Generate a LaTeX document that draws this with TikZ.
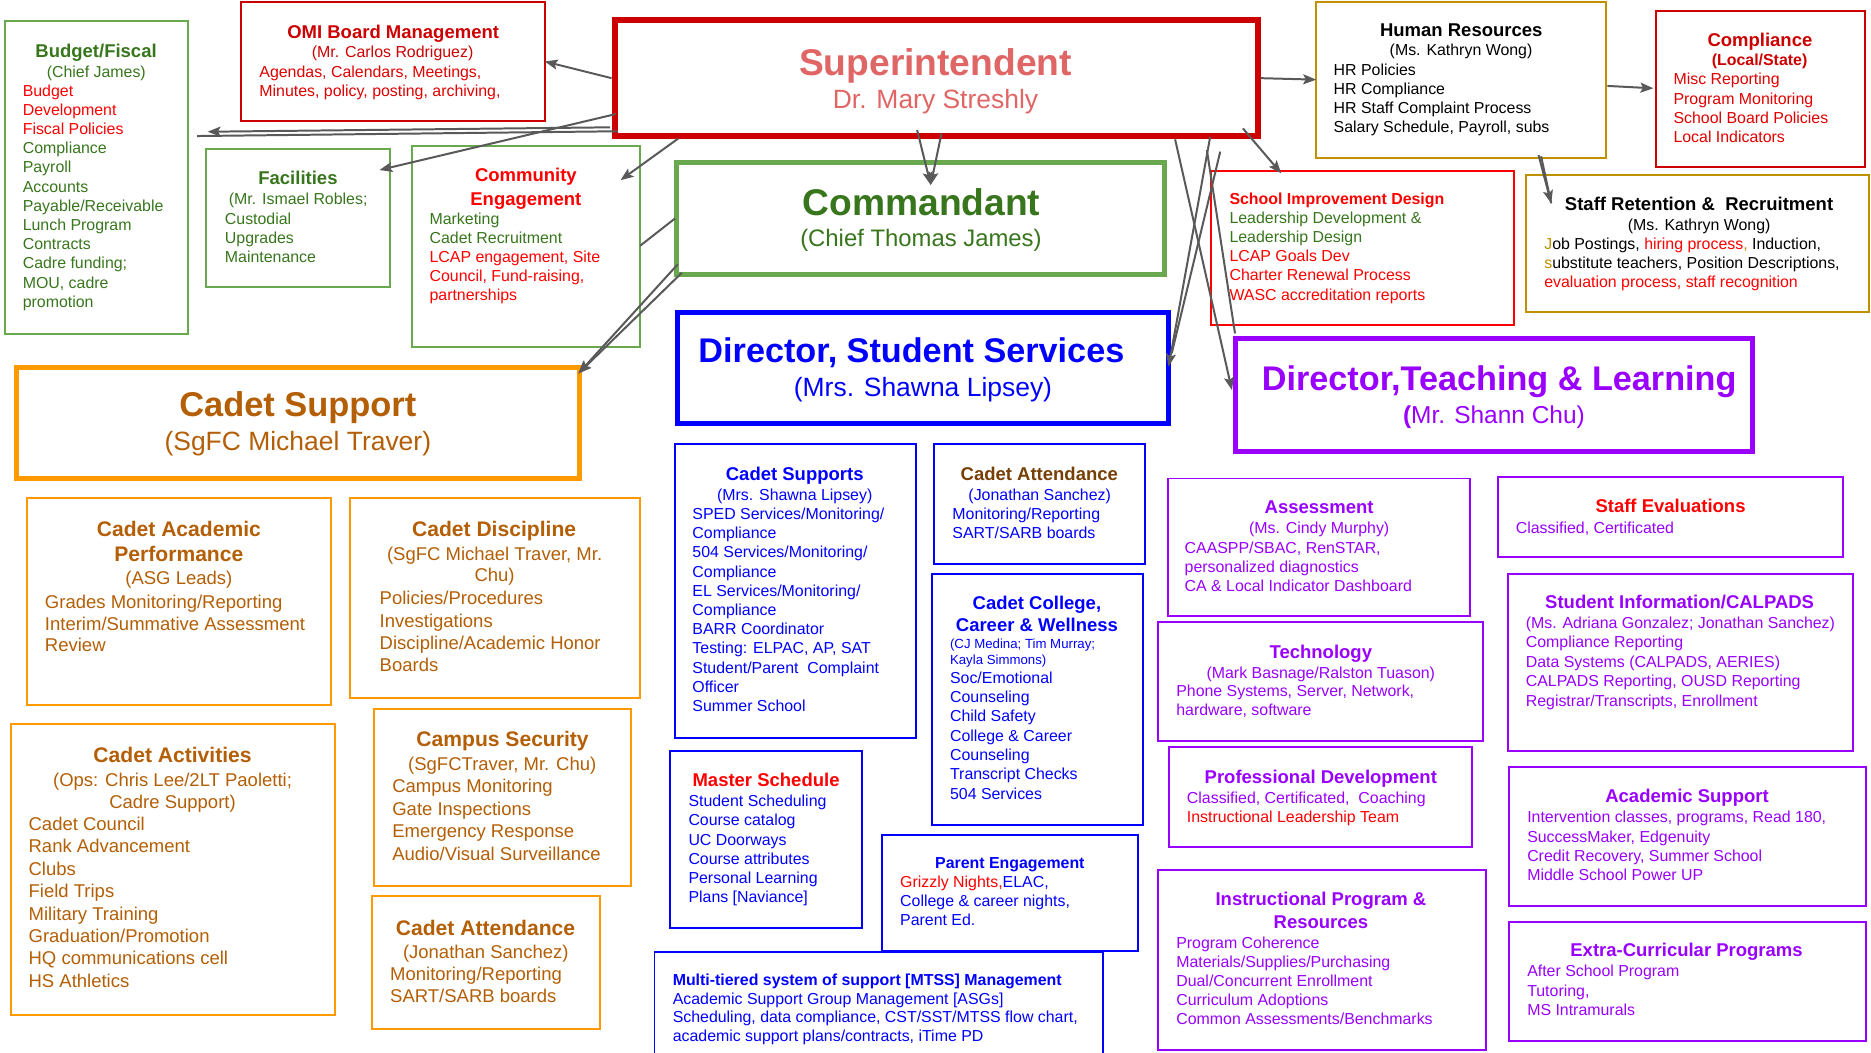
\documentclass[tikz,border=0pt]{standalone}
\usepackage{fontspec}
\setmainfont{Liberation Sans}
\usetikzlibrary{fit,arrows.meta}
\definecolor{cR}{HTML}{CC0000}
\definecolor{cRR}{HTML}{FF0000}
\definecolor{cRb}{HTML}{E00000}
\definecolor{cG}{HTML}{6AA84F}
\definecolor{cGT}{HTML}{38761D}
\definecolor{cSup}{HTML}{E06666}
\definecolor{cOr}{HTML}{FF9900}
\definecolor{cOrT}{HTML}{B45F06}
\definecolor{cBl}{HTML}{0000FF}
\definecolor{cPu}{HTML}{9900FF}
\definecolor{cGold}{HTML}{BF9000}
\definecolor{cBr}{HTML}{783F04}
\definecolor{cLn}{HTML}{595959}
\newcommand\LL[1]{\vtop{\let\\\cr\halign{##\hfil\cr#1\crcr}}}
\newcommand\CL[1]{\vtop{\let\\\cr\halign{\hfil##\hfil\cr#1\crcr}}}
\newcommand\fB{\fontsize{8}{9.66}\selectfont}
\newcommand\fT{\fontsize{9.3}{11.2}\selectfont\bfseries}
\newcommand\fO{\fontsize{9.3}{11.25}\selectfont}
\newcommand\fOT{\fontsize{10.6}{12.5}\selectfont\bfseries}
\tikzset{
  bx/.style={draw=#1, line width=1pt, inner sep=0pt, outer sep=0pt},
  bbx/.style={draw=#1, line width=2.5pt, inner sep=0pt, outer sep=0pt},
  tx/.style={inner sep=0pt, outer sep=0pt},
  tt/.style={tx, anchor=base},
  tb/.style={tx, anchor=base west},
  ln/.style={draw=cLn, line width=1pt},
  ar/.style={ln, -{Stealth[length=6.5pt,width=5pt,inset=1.3pt]}},
}
\begin{document}
\begin{tikzpicture}[x=0.6pt,y=-0.6pt]
\fill[white] (0,0) rectangle (1568,882);
\useasboundingbox (0,0) rectangle (1568,882);

% ---------- Budget / Fiscal
\node[bx=cG, fit={(4,18) (157.5,279.5)}] (budget) {};
\node[tt, text=cGT, font=\fT] (budget-t) at (80.5,48.1) {Budget/Fiscal};
\node[tt, text=cGT, font=\fB] (budget-s) at (80.7,64.8) {(Chief James)};
\node[tb, text=cGT, font=\fB] (budget-b) at (19.1,80.5) {\LL{\textcolor{cRR}{Budget}\\\textcolor{cRR}{Development}\\\textcolor{cRR}{Fiscal Policies}\\Compliance\\Payroll\\Accounts\\Payable/Receivable\\Lunch Program\\Contracts\\Cadre funding;\\MOU, cadre\\promotion}};

% ---------- OMI Board
\node[bx=cR, fit={(202,2) (456.5,101)}] (omi) {};
\node[tt, text=cR, font=\fT] (omi-t) at (329.5,32.1) {OMI Board Management};
\node[tt, text=cR, font=\fB] (omi-s) at (329,48.1) {(Mr. Carlos Rodriguez)};
\node[tb, text=cRb, font=\fB] (omi-b) at (217.4,64.8) {\LL{Agendas, Calendars, Meetings,\\Minutes, policy, posting, archiving,}};

% ---------- Superintendent
\node[draw=cR, line width=3pt, inner sep=0pt, fit={(515,17) (1054,114)}] (sup) {};
\node[tt, text=cSup, font=\fontsize{18.7}{22}\selectfont\bfseries] (sup-t) at (784,62.9) {Superintendent};
\node[tt, text=cSup, font=\fontsize{13.3}{16}\selectfont] (sup-s) at (784,90.8) {Dr. Mary Streshly};

% ---------- Human Resources
\node[bx=cGold, fit={(1103,1.5) (1345.5,132)}] (hr) {};
\node[tt, text=black, font=\fT] (hr-t) at (1224.6,30.2) {Human Resources};
\node[tt, text=black, font=\fB] (hr-s) at (1224.4,46.9) {(Ms. Kathryn Wong)};
\node[tb, text=black, font=\fB] (hr-b) at (1117.7,62.9) {\LL{HR Policies\\HR Compliance\\HR Staff Complaint Process\\Salary Schedule, Payroll, subs}};

% ---------- Compliance
\node[bx=cR, fit={(1387.5,9) (1563,140)}] (comp) {};
\node[tt, text=cR, font=\fT] (comp-t) at (1474.9,38.6) {Compliance};
\node[tt, text=cR, font=\fB\bfseries] (comp-s) at (1474.6,54.5) {(Local/State)};
\node[tb, text=cRb, font=\fB] (comp-b) at (1402.5,71.2) {\LL{Misc Reporting\\Program Monitoring\\School Board Policies\\Local Indicators}};

% ---------- Facilities
\node[bx=cG, fit={(173,125) (326.5,240.5)}] (fac) {};
\node[tt, text=cGT, font=\fT] (fac-t) at (249.7,155) {Facilities};
\node[tt, text=cGT, font=\fB] (fac-s) at (249.9,171) {(Mr. Ismael Robles;};
\node[tb, text=cGT, font=\fB] (fac-b) at (188.5,187.8) {\LL{Custodial\\Upgrades\\Maintenance}};

% ---------- Community Engagement
\node[bx=cG, fit={(345,122.5) (536.5,290.5)}] (ce) {};
\node[tt, text=cRR, font=\fontsize{9.3}{11.7}\selectfont\bfseries] (ce-t) at (440.7,152.3) {\CL{Community\\Engagement}};
\node[tb, text=cRR, font=\fB] (ce-b) at (360,187.8) {\LL{\textcolor{cGT}{Marketing}\\\textcolor{cGT}{Cadet Recruitment}\\LCAP engagement, Site\\Council, Fund-raising,\\partnerships}};

% ---------- Commandant
\node[bbx=cG, fit={(567,136) (976,230)}] (cmd) {};
\node[tt, text=cGT, font=\fontsize{18.7}{22}\selectfont\bfseries] (cmd-t) at (772.3,180.2) {Commandant};
\node[tt, text=cGT, font=\fontsize{12}{14}\selectfont] (cmd-s) at (771.8,206.7) {(Chief Thomas James)};

% ---------- School Improvement Design
\node[bx=cRR, fit={(1015,143.5) (1269,272)}] (sid) {};
\node[tb, text=cRR, font=\fB] (sid-b) at (1030.4,171) {\LL{\textbf{School Improvement Design}\\\textcolor{cGT}{Leadership Development \&}\\\textcolor{cGT}{Leadership Design}\\LCAP Goals Dev\\Charter Renewal Process\\WASC accreditation reports}};

% ---------- Staff Retention
\node[bx=cGold, fit={(1279,146.5) (1566.5,261.5)}] (srr) {};
\node[tt, text=black, font=\fT] (srr-t) at (1423.9,176) {Staff Retention \&\ \ Recruitment};
\node[tt, text=black, font=\fB] (srr-s) at (1423.9,192.8) {(Ms. Kathryn Wong)};
\node[tb, text=black, font=\fB] (srr-b) at (1294.2,209) {\LL{\textcolor{cGold}{J}ob Postings, \textcolor{cRR}{hiring process}\textcolor{cGold}{,} Induction,\\\textcolor{cGold}{s}ubstitute teachers, Position Descriptions,\\\textcolor{cRR}{evaluation process, staff recognition}}};

% ---------- Director Student Services
\node[bbx=cBl, fit={(568,262) (979,355)}] (dss) {};
\node[tt, text=cBl, font=\fontsize{17.2}{20}\selectfont\bfseries] (dss-t) at (763.8,304) {Director, Student Services};
\node[tt, text=cBl, font=\fontsize{13.3}{16}\selectfont] (dss-s) at (773.5,332.5) {(Mrs. Shawna Lipsey)};

% ---------- Director Teaching & Learning
\node[bbx=cPu, fit={(1035,284) (1469,378)}] (dtl) {};
\node[tt, text=cPu, font=\fontsize{17.2}{20}\selectfont\bfseries] (dtl-t) at (1256.4,326.9) {Director,Teaching \& Learning};
\node[tt, text=cPu, font=\fontsize{12.3}{15}\selectfont] (dtl-s) at (1252,354.8) {\textbf{(}Mr. Shann Chu)};

% ---------- Cadet Support
\node[bbx=cOr, fit={(13.5,308) (486,401)}] (cs) {};
\node[tt, text=cOrT, font=\fontsize{17.3}{20}\selectfont\bfseries] (cs-t) at (249.6,349.2) {Cadet Support};
\node[tt, text=cOrT, font=\fontsize{13.3}{16}\selectfont] (cs-s) at (249.6,377.7) {(SgFC Michael Traver)};

% ---------- Cadet Academic Performance
\node[bx=cOr, fit={(22.5,417.5) (277,590.5)}] (cap) {};
\node[tt, text=cOrT, font=\fontsize{10.6}{12.5}\selectfont\bfseries] (cap-t) at (149.9,449.8) {\CL{Cadet Academic\\Performance}};
\node[tt, text=cOrT, font=\fO] (cap-s) at (149.9,489.5) {(ASG Leads)};
\node[tb, text=cOrT, font=\fontsize{9.3}{10.9}\selectfont] (cap-b) at (37.7,509.9) {\LL{Grades Monitoring/Reporting\\Interim/Summative Assessment\\Review}};

% ---------- Cadet Discipline
\node[bx=cOr, fit={(293,417.5) (536.5,585)}] (cdi) {};
\node[tt, text=cOrT, font=\fOT] (cdi-t) at (414.1,449.8) {Cadet Discipline};
\node[tt, text=cOrT, font=\fontsize{9.3}{10.9}\selectfont] (cdi-s) at (414.5,469.4) {\CL{(SgFC Michael Traver, Mr.\\Chu)}};
\node[tb, text=cOrT, font=\fontsize{9.3}{11.2}\selectfont] (cdi-b) at (318.2,507) {\LL{Policies/Procedures\\Investigations\\Discipline/Academic Honor\\Boards}};

% ---------- Cadet Activities
\node[bx=cOr, fit={(9,607) (281,850.5)}] (cac) {};
\node[tt, text=cOrT, font=\fOT] (cac-t) at (144.6,639.2) {Cadet Activities};
\node[tt, text=cOrT, font=\fontsize{9.3}{11.2}\selectfont] (cac-s) at (144.6,658.8) {\CL{(Ops: Chris Lee/2LT Paoletti;\\Cadre Support)}};
\node[tb, text=cOrT, font=\fontsize{9.3}{11.3}\selectfont] (cac-b) at (24,695.7) {\LL{Cadet Council\\Rank Advancement\\Clubs\\Field Trips\\Military Training\\Graduation/Promotion\\HQ communications cell\\HS Athletics}};

% ---------- Campus Security
\node[bx=cOr, fit={(313.5,594) (529,742.5)}] (csec) {};
\node[tt, text=cOrT, font=\fOT] (csec-t) at (421.2,625.8) {Campus Security};
\node[tt, text=cOrT, font=\fO] (csec-s) at (420.9,645.4) {(SgFCTraver, Mr. Chu)};
\node[tb, text=cOrT, font=\fontsize{9.3}{11.28}\selectfont] (csec-b) at (328.8,664.4) {\LL{Campus Monitoring\\Gate Inspections\\Emergency Response\\Audio/Visual Surveillance}};

% ---------- Cadet Attendance (orange)
\node[bx=cOr, fit={(312,751) (502.5,862)}] (catt) {};
\node[tt, text=cOrT, font=\fOT] (catt-t) at (406.9,783.7) {Cadet Attendance};
\node[tt, text=cOrT, font=\fO] (catt-s) at (407.1,803.2) {(Jonathan Sanchez)};
\node[tb, text=cOrT, font=\fontsize{9.3}{11.04}\selectfont] (catt-b) at (327,822) {\LL{Monitoring/Reporting\\SART/SARB boards}};

% ---------- Cadet Supports (blue)
\node[bx=cBl, fit={(565.5,372.5) (767.5,618.5)}] (csup) {};
\node[tt, text=cBl, font=\fT] (csup-t) at (666,402.3) {Cadet Supports};
\node[tt, text=cBl, font=\fB] (csup-s) at (666,419.1) {(Mrs. Shawna Lipsey)};
\node[tb, text=cBl, font=\fB] (csup-b) at (580.3,435.3) {\LL{SPED Services/Monitoring/\\Compliance\\504 Services/Monitoring/\\Compliance\\EL Services/Monitoring/\\Compliance\\BARR Coordinator\\Testing: ELPAC, AP, SAT\\Student/Parent\ \ Complaint\\Officer\\Summer School}};

% ---------- Cadet Attendance (blue)
\node[bx=cBl, fit={(783,372.5) (959.5,472.5)}] (catb) {};
\node[tt, text=cBr, font=\fT] (catb-t) at (871,402.3) {Cadet Attendance};
\node[tt, text=cBl, font=\fB] (catb-s) at (871.3,419.1) {(Jonathan Sanchez)};
\node[tb, text=cBl, font=\fB] (catb-b) at (798.2,435.3) {\LL{Monitoring/Reporting\\SART/SARB boards}};

% ---------- Cadet College, Career & Wellness
\node[bx=cBl, fit={(781,481) (957.5,691)}] (ccw) {};
\node[tt, text=cBl, font=\fontsize{9.3}{11.2}\selectfont\bfseries] (ccw-t) at (869,510.7) {\CL{Cadet College,\\Career \& Wellness}};
\node[tb, text=cBl, font=\fontsize{6.65}{8.04}\selectfont] (ccw-s) at (796.2,543.4) {\LL{(CJ Medina; Tim Murray;\\Kayla Simmons)}};
\node[tb, text=cBl, font=\fontsize{8}{9.7}\selectfont] (ccw-b) at (796.2,572.7) {\LL{Soc/Emotional\\Counseling\\Child Safety\\College \& Career\\Counseling\\Transcript Checks\\504 Services}};

% ---------- Master Schedule
\node[bx=cBl, fit={(561.5,629) (722.5,777.5)}] (ms) {};
\node[tt, text=cRR, font=\fT] (ms-t) at (642,658.8) {Master Schedule};
\node[tb, text=cBl, font=\fB] (ms-b) at (577,676.1) {\LL{Student Scheduling\\Course catalog\\UC Doorways\\Course attributes\\Personal Learning\\Plans [Naviance]}};

% ---------- Parent Engagement
\node[bx=cBl, fit={(739,700) (953.5,797)}] (pe) {};
\node[tt, text=cBl, font=\fB\bfseries] (pe-t) at (846.3,727.8) {Parent Engagement};
\node[tb, text=cBl, font=\fB] (pe-b) at (754.4,743.7) {\LL{\textcolor{cRR}{Grizzly Nights,}ELAC,\\College \& career nights,\\Parent Ed.}};

% ---------- MTSS
\node[bx=cBl, fit={(548.5,797.5) (924.5,895)}] (mtss) {};
\node[tb, text=cBl, font=\fontsize{8}{9.5}\selectfont] (mtss-b) at (563.8,825.6) {\LL{\textbf{Multi-tiered system of support [MTSS] Management}\\Academic Support Group Management [ASGs]\\Scheduling, data compliance, CST/SST/MTSS flow chart,\\academic support plans/contracts, iTime PD}};

% ---------- Assessment
\node[bx=cPu, fit={(978.5,401) (1232,516.5)}] (asm) {};
\node[tt, text=cPu, font=\fT] (asm-t) at (1105.5,430.2) {Assessment};
\node[tt, text=cPu, font=\fB] (asm-s) at (1105.5,447) {(Ms. Cindy Murphy)};
\node[tb, text=cPu, font=\fB] (asm-b) at (992.8,463.8) {\LL{CAASPP/SBAC, RenSTAR,\\personalized diagnostics\\CA \& Local Indicator Dashboard}};

% ---------- Staff Evaluations
\node[bx=cPu, fit={(1255,400) (1544.5,467)}] (sev) {};
\node[tt, text=cRR, font=\fT] (sev-t) at (1400,429.7) {Staff Evaluations};
\node[tb, text=cPu, font=\fB] (sev-b) at (1270.3,447) {Classified, Certificated};

% ---------- Technology
\node[bx=cPu, fit={(970.5,521) (1242.5,621)}] (tech) {};
\node[tt, text=cPu, font=\fT] (tech-t) at (1106.9,551.8) {Technology};
\node[tt, text=cPu, font=\fB] (tech-s) at (1106.9,568.5) {(Mark Basnage/Ralston Tuason)};
\node[tb, text=cPu, font=\fB] (tech-b) at (985.8,583.9) {\LL{Phone Systems, Server, Network,\\hardware, software}};

% ---------- Student Information
\node[bx=cPu, fit={(1263.5,481) (1553,629)}] (sis) {};
\node[tt, text=cPu, font=\fT] (sis-t) at (1407.6,509.9) {Student Information/CALPADS};
\node[tb, text=cPu, font=\fontsize{8}{9.76}\selectfont] (sis-b) at (1278.7,526.6) {\LL{(Ms. Adriana Gonzalez; Jonathan Sanchez)\\Compliance Reporting\\Data Systems (CALPADS, AERIES)\\CALPADS Reporting, OUSD Reporting\\Registrar/Transcripts, Enrollment}};

% ---------- Professional Development
\node[bx=cPu, fit={(979.5,626) (1234,710)}] (pd) {};
\node[tt, text=cPu, font=\fT] (pd-t) at (1106.9,656.6) {Professional Development};
\node[tb, text=cPu, font=\fB] (pd-b) at (994.7,673.3) {\LL{Classified, Certificated,\ \ Coaching\\\textcolor{cRR}{Instructional Leadership Team}}};

% ---------- Academic Support
\node[bx=cPu, fit={(1264.5,643) (1563.5,759)}] (acs) {};
\node[tt, text=cPu, font=\fT] (acs-t) at (1413.8,672.8) {Academic Support};
\node[tb, text=cPu, font=\fontsize{8}{9.7}\selectfont] (acs-b) at (1279.9,689.5) {\LL{Intervention classes, programs, Read 180,\\SuccessMaker, Edgenuity\\Credit Recovery, Summer School\\Middle School Power UP}};

% ---------- Instructional Program & Resources
\node[bx=cPu, fit={(970.5,729) (1245,880)}] (ipr) {};
\node[tt, text=cPu, font=\fontsize{9.3}{11.76}\selectfont\bfseries] (ipr-t) at (1107,758.5) {\CL{Instructional Program \&\\Resources}};
\node[tb, text=cPu, font=\fontsize{8}{9.51}\selectfont] (ipr-b) at (985.8,794.9) {\LL{Program Coherence\\Materials/Supplies/Purchasing\\Dual/Concurrent Enrollment\\Curriculum Adoptions\\Common Assessments/Benchmarks}};

% ---------- Extra-Curricular Programs
\node[bx=cPu, fit={(1264.5,772.5) (1563.5,872)}] (ecp) {};
\node[tt, text=cPu, font=\fT] (ecp-t) at (1413.4,801.9) {Extra-Curricular Programs};
\node[tb, text=cPu, font=\fB] (ecp-b) at (1279.9,818.6) {\LL{After School Program\\Tutoring,\\MS Intramurals}};

% ---------- connector end points
\coordinate (supBfA) at (511.3,106.7);
\coordinate (bfA) at (174,110.4);
\coordinate (supBfB) at (518,110);
\coordinate (bfB) at (165.2,114);
\coordinate (supFac) at (516,95.6);
\coordinate (facIn) at (318,142.5);
\coordinate (supCe) at (568.5,116);
\coordinate (ceIn) at (520,151);
\coordinate (cmdCe) at (565.8,183);
\coordinate (ceEdge) at (536.4,206);
\coordinate (cmdCsA) at (568,221.5);
\coordinate (cmdCsB) at (571.4,228.6);
\coordinate (csIn) at (484.7,313);
\coordinate (supCmdA) at (768.6,109);
\coordinate (supCmdB) at (789,111.8);
\coordinate (cmdIn) at (780,155);
\coordinate (supSid) at (1041.6,107.6);
\coordinate (sidIn) at (1073.7,145.3);
\coordinate (supDtlA) at (984.8,116.8);
\coordinate (dtlIn) at (1032.4,326.9);
\coordinate (supDssA) at (1014.2,114.6);
\coordinate (dssIn) at (979.3,307.3);
\coordinate (supDssB) at (1022.6,127.1);
\coordinate (dssEdge) at (982,296);
\coordinate (supDtlB) at (1011.4,125.7);
\coordinate (dtlEdge) at (1035,279.4);
\coordinate (hrComp) at (1347,72);
\coordinate (compIn) at (1385.6,74);
\coordinate (hrSrrA) at (1289.4,130);
\coordinate (hrSrrB) at (1291.5,131);
\coordinate (srrIn) at (1300,170.4);

% ---------- connectors
\draw[ar] (sup.west) -- (omi.east);
\draw[ar] (supBfA) -- (bfA);
\draw[ln] (supBfB) -- (bfB);
\draw[ar] (supFac) -- (facIn);
\draw[ar] (supCe) -- (ceIn);
\draw[ln] (cmdCe) -- (ceEdge);
\draw[ar] (cmdCsA) -- (csIn);
\draw[ar] (cmdCsB) -- (csIn);
\draw[ar] (supCmdA) -- (cmdIn);
\draw[ar] (supCmdB) -- (cmdIn);
\draw[ar] (supSid) -- (sidIn);
\draw[ar] (supDtlA) -- (dtlIn);
\draw[ar] (supDssA) -- (dssIn);
\draw[ln] (supDssB) -- (dssEdge);
\draw[ln] (supDtlB) -- (dtlEdge);
\draw[ar] (sup.east) -- (hr.west);
\draw[ar] (hrComp) -- (compIn);
\draw[ar] (hrSrrA) -- (srrIn);
\draw[ln] (hrSrrB) -- (srrIn);
\end{tikzpicture}
\end{document}
